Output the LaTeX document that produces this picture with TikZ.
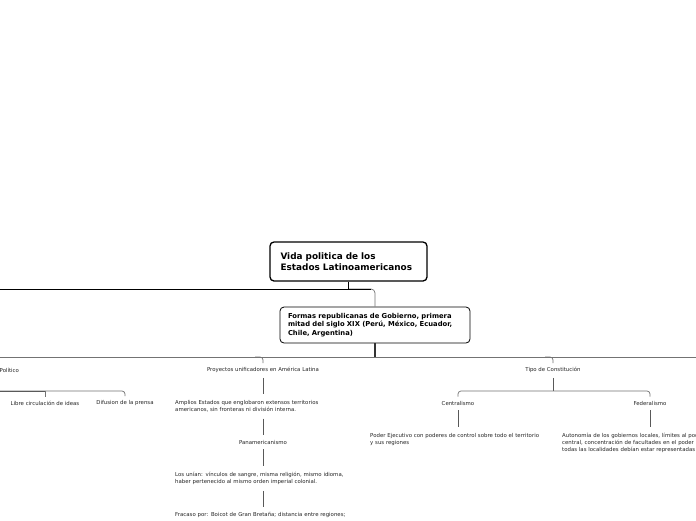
\documentclass[tikz,border=0pt]{standalone}
\usepackage{fontspec}
\setmainfont{DejaVu Sans}
\begin{document}
\begin{tikzpicture}[x=1pt,y=-1pt,
  rootbox/.style={draw=black,line width=1.3pt,rounded corners=4pt,fill=white,
    minimum width=157pt,minimum height=39pt,inner xsep=10.5pt,inner ysep=0pt,
    text width=136pt,align=left,font=\bfseries\fontsize{8.9}{11}\selectfont},
  mainbox/.style={draw=black,line width=0.8pt,rounded corners=4pt,fill=white,
    minimum width=190pt,minimum height=36pt,inner xsep=8pt,inner ysep=0pt,
    text width=174pt,align=left,font=\bfseries\fontsize{6.8}{8.6}\selectfont},
  lbl/.style={inner sep=0pt,text=black!85,font=\fontsize{5.4}{7}\selectfont},
  para/.style={lbl,anchor=west,align=left},
  conn/.style={draw=black!55,line width=0.7pt},
  darkconn/.style={draw=black!65,line width=0.8pt},
]
\useasboundingbox (0,0) rectangle (696,520);
\clip (0,0) rectangle (696,520);
\fill[white] (0,0) rectangle (696,520);

% boxes
\node[rootbox] (root) at (348.5,261.5) {Vida politica de los\\Estados Latinoamericanos};
\node[mainbox] (formas) at (375,325) {Formas republicanas de Gobierno, primera\\mitad del siglo XIX (Perú, México, Ecuador,\\Chile, Argentina)};

% top connectors
\coordinate (topL) at (0,289);
\draw[conn,rounded corners=4pt] (root.south |- topL) -- (formas.north |- topL) -- (formas.north);
\draw[draw=black,line width=0.8pt] (root.south) -- (root.south |- topL);
\draw[draw=black,line width=0.8pt] (topL) -- ([xshift=-4pt]formas.north |- topL);

% level 2 bus
\coordinate (busL) at (0,357);
\coordinate (busR) at (696,357);
\draw[draw=black!80,line width=1.6pt] (formas.south) -- (formas.south |- busL);
\draw[conn] (busL) -- (busR);

% labels level 2
\node[lbl,anchor=west] (pol) at (-0.5,370) {Político};
\node[lbl] (proy) at (263,370) {Proyectos unificadores en América Latina};
\node[lbl] (tipo) at (553,370) {Tipo de Constitución};
\draw[conn,rounded corners=3pt] ([xshift=-8pt]proy.north |- busL) -- (proy.north |- busL) -- ([yshift=4pt]proy.north);
\draw[conn,rounded corners=3pt] ([xshift=-8pt]tipo.north |- busL) -- (tipo.north |- busL) -- ([yshift=4pt]tipo.north);

% Politico children
\node[lbl] (libre) at (45,403) {Libre circulación de ideas};
\node[lbl] (difu) at (125,403) {Difusion de la prensa};
\coordinate (polbus) at (0,391);
\draw[conn,rounded corners=3pt] (polbus) -- (difu.north |- polbus) -- ([yshift=4pt]difu.north);
\draw[conn] (libre.north |- polbus) -- ([yshift=4pt]libre.north);
\draw[darkconn] (polbus) -- (libre.north |- polbus);

% Proyectos chain
\node[para,text width=190pt] (amp) at (175,406.5) {Amplios Estados que englobaron extensos territorios\\americanos, sin fronteras ni división interna.};
\node[lbl] (pan) at (263,442) {Panamericanismo};
\node[para,text width=190pt] (los) at (175,478.5) {Los unían: vínculos de sangre, misma religión, mismo idioma,\\haber pertenecido al mismo orden imperial colonial.};
\node[para,text width=190pt] (fra) at (175,515) {Fracaso por: Boicot de Gran Bretaña; distancia entre regiones;};
\draw[darkconn] ([yshift=-5pt]proy.south) -- ([yshift=6pt]proy.south |- amp.north);
\draw[darkconn] ([yshift=-6pt]pan.north |- amp.south) -- ([yshift=5pt]pan.north);
\draw[darkconn] ([yshift=-5pt]pan.south) -- ([yshift=6pt]pan.south |- los.north);
\draw[darkconn] ([yshift=-6pt]pan.south |- los.south) -- ([yshift=5pt]pan.south |- fra.north);

% Tipo children
\node[lbl] (cen) at (458,403) {Centralismo};
\node[lbl] (fed) at (650,403) {Federalismo};
\coordinate (tipbus) at (553,391);
\draw[darkconn] ([yshift=-5pt]tipo.south) -- (tipbus);
\draw[conn,rounded corners=3pt] ([yshift=4pt]cen.north) -- (cen.north |- tipbus) -- (fed.north |- tipbus) -- ([yshift=4pt]fed.north);
\node[para,text width=190pt] (poder) at (370,439.5) {Poder Ejecutivo con poderes de control sobre todo el territorio\\y sus regiones};
\node[para,text width=200pt] (auto) at (562,443) {Autonomía de los gobiernos locales, límites al poder\\central, concentración de facultades en el poder\\todas las localidades debían estar representadas};
\draw[darkconn] ([yshift=-5pt]cen.south) -- ([yshift=6pt]cen.south |- poder.north);
\draw[darkconn] ([yshift=-5pt]fed.south) -- ([yshift=6pt]fed.south |- auto.north);
\end{tikzpicture}
\end{document}
